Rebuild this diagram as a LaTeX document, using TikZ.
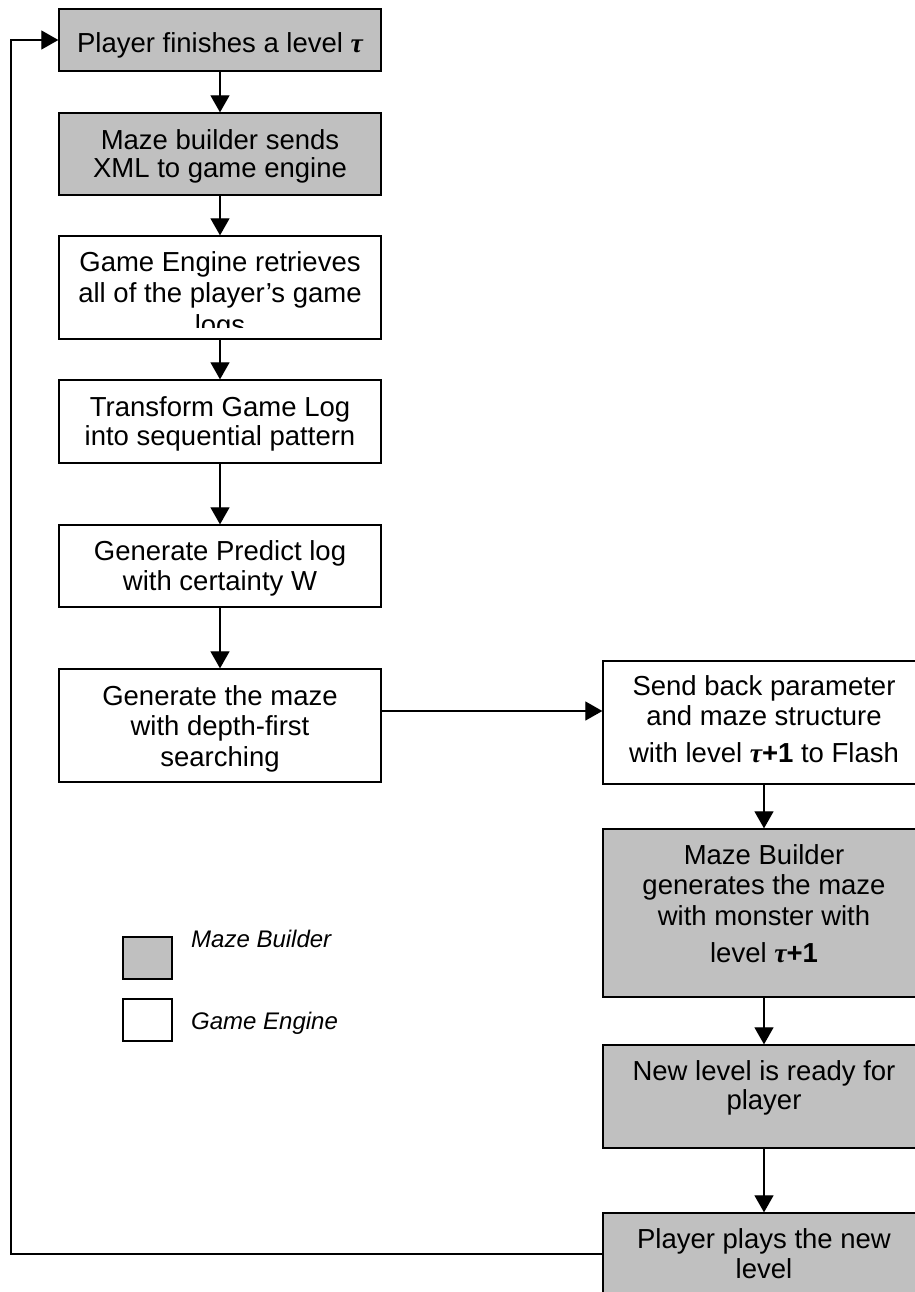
\documentclass[tikz,border=0pt]{standalone}
\usepackage{fontspec}
\setmainfont{Liberation Sans}
\newfontfamily\greekfont{Liberation Serif}
\usetikzlibrary{arrows.meta}
\definecolor{mbgray}{RGB}{192,192,192}
\newcommand{\tauv}{{\greekfont\bfseries\itshape τ}}
\newcommand{\tauplus}{{\greekfont\bfseries\itshape τ}{\bfseries +1}}

\begin{document}
\begin{tikzpicture}[x=1pt,y=-1pt,
  box/.style={draw=black, line width=1.3pt, minimum width=322pt, inner sep=0pt},
  mb/.style={box, fill=mbgray},
  ge/.style={box, fill=white},
  txt/.style={anchor=base, inner sep=0pt, font=\fontsize{27.5}{30.5}\selectfont},
  legtxt/.style={anchor=base west, inner sep=0pt, font=\fontsize{24}{28}\selectfont\itshape},
  arr/.style={line width=1.2pt, -{Triangle[length=17pt,width=19pt]}}]

\useasboundingbox (0,0) rectangle (914,1292);
\fill[white] (0,0) rectangle (914,1292);

% left column: steps 1-6
\node[mb, minimum height=62pt]  (b1) at (220,40)    {};
\node[mb, minimum height=82pt]  (b2) at (220,154)   {};
\node[ge, minimum height=103pt] (b3) at (220,287.5) {};
\node[ge, minimum height=83pt]  (b4) at (220,421.5) {};
\node[ge, minimum height=82pt]  (b5) at (220,566)   {};
\node[ge, minimum height=113pt] (b6) at (220,725.5) {};

% right column: steps 7-10
\node[ge, minimum height=123pt] (b7)  at (764,722.5) {};
\node[mb, minimum height=168pt] (b8)  at (764,913)   {};
\node[mb, minimum height=103pt] (b9)  at (764,1096.5){};
\node[mb, minimum height=104pt] (b10) at (764,1265)  {};

% box texts
\node[txt] (t1) at (220,53) {\begin{tabular}[t]{@{}c@{}}Player finishes a level \tauv\end{tabular}};
\node[txt] (t2) at (220,150) {\begin{tabular}[t]{@{}c@{}}Maze builder sends\\[-2.5pt] XML to game engine\end{tabular}};
\begin{scope}
  \clip (59,236) rectangle (381,327);
  \node[txt] (t3) at (220,271) {\begin{tabular}[t]{@{}c@{}}Game Engine retrieves\\[1pt] all of the player’s game\\[1pt] logs\end{tabular}};
\end{scope}
\node[txt] (t4) at (220,416) {\begin{tabular}[t]{@{}c@{}}Transform Game Log\\[-1.5pt] into sequential pattern\end{tabular}};
\node[txt] (t5) at (220,560) {\begin{tabular}[t]{@{}c@{}}Generate Predict log\\ with certainty W\end{tabular}};
\node[txt] (t6) at (220,705) {\begin{tabular}[t]{@{}c@{}}Generate the maze\\ with depth-first\\ searching\end{tabular}};
\node[txt] (t7) at (764,695) {\begin{tabular}[t]{@{}c@{}}Send back parameter\\ and maze structure\\[6pt] with level \tauplus{} to Flash\end{tabular}};
\node[txt] (t8) at (764,864) {\begin{tabular}[t]{@{}c@{}}Maze Builder\\ generates the maze\\ with monster with\\[7pt] level \tauplus\end{tabular}};
\node[txt] (t9) at (764,1080) {\begin{tabular}[t]{@{}c@{}}New level is ready for\\[-1.5pt] player\end{tabular}};
\node[txt] (t10) at (764,1248) {\begin{tabular}[t]{@{}c@{}}Player plays the new\\ level\end{tabular}};

% connectors
\draw[arr] (b1) -- (b2);
\draw[arr] (b2) -- (b3);
\draw[arr] (b3) -- (b4);
\draw[arr] (b4) -- (b5);
\draw[arr] (b5) -- (b6);
\draw[arr] ([yshift=14.5pt]b6.east) -- ([yshift=14.5pt]b6.east -| b7.west);
\draw[arr] (b7) -- (b8);
\draw[arr] (b8) -- (b9);
\draw[arr] (b9) -- (b10);

% loop back to the first step
\coordinate (fb) at (11,1254);
\draw[arr] ([yshift=11pt]b10.west) -- (fb) -- (fb |- b1.west) -- (b1.west);

% legend
\node[mb, minimum width=49pt, minimum height=42pt] (lg1) at (147.5,958)  {};
\node[ge, minimum width=49pt, minimum height=42pt] (lg2) at (147.5,1020) {};
\node[legtxt] (lt1) at (191,947)  {Maze Builder};
\node[legtxt] (lt2) at (191,1029) {Game Engine};
\end{tikzpicture}
\end{document}
